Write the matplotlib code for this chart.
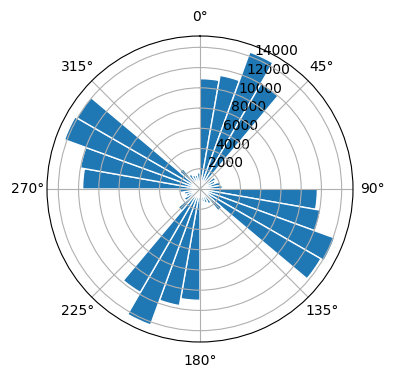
import matplotlib
matplotlib.use("Agg")
import matplotlib.pyplot as plt
import numpy as np

# wind direction bins (start of each 10 degree sector) and counts
bin_start_deg = np.arange(0, 360, 10)
counts = [
    10900, 11400, 14400, 12000, 1500, 1800, 1600, 2000, 2200,   # 0-80
    11600, 12100, 14150, 13800, 2800, 1700, 1500, 1300, 1200,   # 90-170
    11000, 11700, 14300, 11800, 2800, 1800, 1500, 1600, 2000,   # 180-260
    11600, 12000, 14250, 14050, 2600, 1700, 1500, 1400, 1600,   # 270-350
]

fig = plt.figure(figsize=(3.96, 3.80), dpi=100)
ax = fig.add_axes([47 / 396, 38 / 380, 306 / 396, 306 / 380], projection="polar")
ax.set_theta_zero_location("N")
ax.set_theta_direction(-1)

theta = np.deg2rad(bin_start_deg)
width = np.deg2rad(10)
ax.bar(theta, counts, width=width, align="edge", edgecolor="white", linewidth=1)

fig.savefig("out.png", dpi=100)
